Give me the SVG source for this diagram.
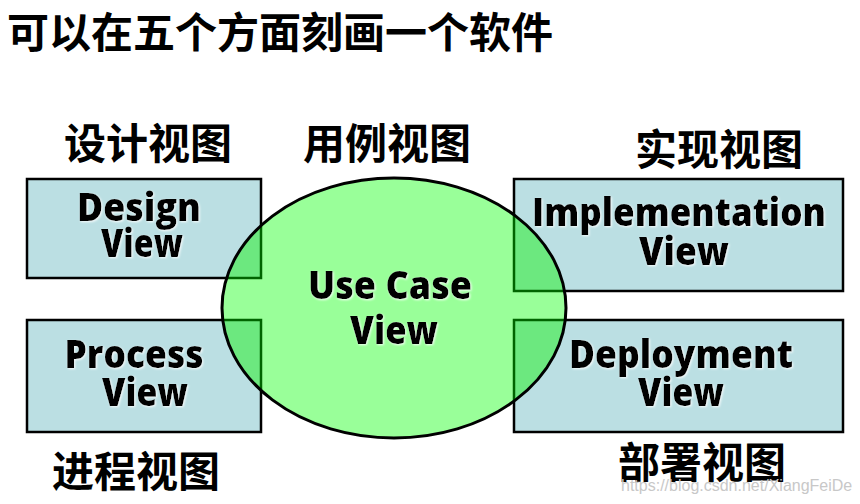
<svg xmlns="http://www.w3.org/2000/svg" width="860" height="504" viewBox="0 0 860 504">
<style>
.box{fill:#bbdfe3;stroke:#000;stroke-width:2.5}
.ov{fill:#6ce87f;stroke:#006400;stroke-width:2.5}
.ell{fill:#99ff99;stroke:none}
.ellS{fill:none;stroke:#000;stroke-width:3}
.en{font-family:"Open Sans","Noto Sans","DejaVu Sans",sans-serif;font-weight:800;font-size:38px;fill:#000;text-anchor:middle}
.cjk{font-family:"Noto Sans CJK SC","Noto Sans",sans-serif;font-weight:bold;font-size:42px;fill:#000}
.wm{font-family:"Liberation Sans",Arial,sans-serif;font-size:16px;fill:#c8c8c8}
</style>
<defs>
<clipPath id="ellClip"><ellipse cx="394" cy="308" rx="172" ry="130"/></clipPath>
<filter id="glow" x="-5%" y="-20%" width="110%" height="140%">
<feDropShadow dx="1" dy="1" stdDeviation="0.8" flood-color="#ffffff" flood-opacity="0.9"/>
</filter>
</defs>
<rect width="860" height="504" fill="#fff"/>
<text class="cjk" x="7" y="48">可以在五个方面刻画一个软件</text>

<g id="design-view">
<rect class="box" x="27" y="179" width="234" height="99"/>
</g>
<g id="process-view">
<rect class="box" x="27" y="320" width="234" height="112"/>
</g>
<g id="implementation-view">
<rect class="box" x="514" y="179" width="329" height="112"/>
</g>
<g id="deployment-view">
<rect class="box" x="514" y="320" width="329" height="112"/>
</g>

<g id="use-case-view">
<ellipse class="ell" cx="394" cy="308" rx="172" ry="130"/>
<g clip-path="url(#ellClip)">
<rect class="ov" x="27" y="179" width="234" height="99"/>
<rect class="ov" x="27" y="320" width="234" height="112"/>
<rect class="ov" x="514" y="179" width="329" height="112"/>
<rect class="ov" x="514" y="320" width="329" height="112"/>
</g>
<ellipse class="ellS" cx="394" cy="308" rx="172" ry="130"/>
</g>

<g id="connectors"/>

<g id="labels" filter="url(#glow)">
<text class="en" x="139" y="221" textLength="124" lengthAdjust="spacingAndGlyphs">Design</text>
<text class="en" x="142" y="257" textLength="82" lengthAdjust="spacingAndGlyphs">View</text>
<text class="en" x="390" y="299" textLength="164" lengthAdjust="spacingAndGlyphs">Use Case</text>
<text class="en" x="394" y="344" textLength="88" lengthAdjust="spacingAndGlyphs">View</text>
<text class="en" x="679" y="226" textLength="294" lengthAdjust="spacingAndGlyphs">Implementation</text>
<text class="en" x="684" y="265" textLength="90" lengthAdjust="spacingAndGlyphs">View</text>
<text class="en" x="134" y="368" textLength="139" lengthAdjust="spacingAndGlyphs">Process</text>
<text class="en" x="145" y="406" textLength="86" lengthAdjust="spacingAndGlyphs">View</text>
<text class="en" x="681" y="368" textLength="224" lengthAdjust="spacingAndGlyphs">Deployment</text>
<text class="en" x="681" y="406" textLength="86" lengthAdjust="spacingAndGlyphs">View</text>
</g>

<text class="cjk" x="64" y="159">设计视图</text>
<text class="cjk" x="303" y="159">用例视图</text>
<text class="cjk" x="635" y="165">实现视图</text>
<text class="cjk" x="52" y="487">进程视图</text>
<text class="cjk" x="618" y="478">部署视图</text>
<text class="wm" x="621" y="491">https://blog.csdn.net/XiangFeiDe</text>
</svg>
